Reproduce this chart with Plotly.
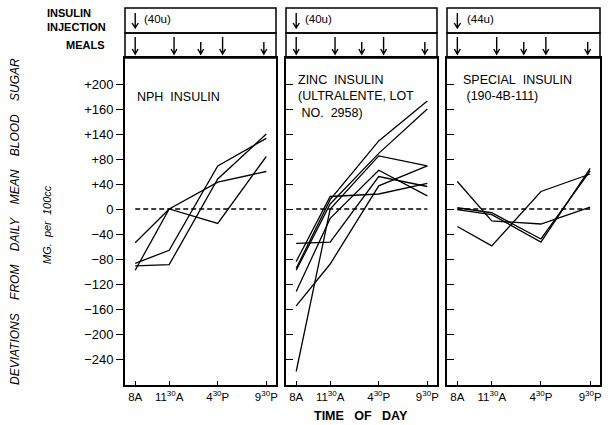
import plotly.graph_objects as go

# ---------------- data ----------------
time_hours = [8, 11.5, 16.5, 21.5]
time_labels = ["8A", "11<sup>30</sup>A", "4<sup>30</sup>P", "9<sup>30</sup>P"]

y_tick_vals = [200, 160, 120, 80, 40, 0, -40, -80, -120, -160, -200, -240]
y_tick_text = ["+200", "+160", "+140", "+80", "+40", "0", "−40", "−80",
               "−120", "−160", "−200", "−240"]

nph_series = [
    [-54, 0, 43, 60],
    [-87, -66, 69, 113],
    [-91, -89, 48, 120],
    [-98, 0, -23, 84],
]
zinc_series = [
    [-55, -53, 52, 36],
    [-84, 20, 24, 41],
    [-95, 15, 109, 173],
    [-98, 8, 89, 160],
    [-132, -15, 62, 21],
    [-155, -88, 37, 69],
    [-260, 0, 85, 69],
]
special_series = [
    [44, -19, -24, 3],
    [-28, -59, 28, 56],
    [2, -6, -48, 61],
    [-1, -9, -53, 65],
]

panel_titles = [
    "NPH\u00a0\u00a0INSULIN",
    "ZINC\u00a0\u00a0INSULIN<br>(ULTRALENTE,\u00a0LOT<br>\u00a0NO.\u00a0\u00a02958)",
    "SPECIAL\u00a0\u00a0INSULIN<br>\u00a0(190-4B-111)",
]
injection_doses = ["(40u)", "(40u)", "(44u)"]
meal_times = [8, 12, 14.75, 17, 21.25]
meal_is_snack = [False, False, True, False, True]

# ---------------- layout geometry (pixels) ----------------
W, H = 608, 425
panel_px = [(125, 276), (286, 437), (447, 600)]
box_top, box_bottom = 58, 385
hdr_top, hdr_mid = 8, 33
x_range = [6.95, 22.5]
y_range = [-281.6, 241.6]

FONT = "Liberation Sans, Arial, sans-serif"

def px(x):
    return x / W

def py(y):
    return 1 - y / H

fig = go.Figure()
all_series = [nph_series, zinc_series, special_series]

for i, series in enumerate(all_series):
    xa = "x" if i == 0 else f"x{i+1}"
    ya = "y" if i == 0 else f"y{i+1}"
    fig.add_trace(go.Scatter(
        x=[time_hours[0], time_hours[-1]], y=[0, 0], mode="lines",
        line=dict(color="black", width=1.3, dash="5px,3px"),
        xaxis=xa, yaxis=ya, showlegend=False, hoverinfo="skip"))
    for s in series:
        fig.add_trace(go.Scatter(
            x=time_hours, y=s, mode="lines",
            line=dict(color="black", width=1.3),
            xaxis=xa, yaxis=ya, showlegend=False))

layout = dict(
    width=W, height=H, margin=dict(l=0, r=0, t=0, b=0),
    paper_bgcolor="white", plot_bgcolor="white",
    template="none", showlegend=False,
    font=dict(family=FONT, color="black", size=11),
)

for i, (x0, x1) in enumerate(panel_px):
    xkey = "xaxis" if i == 0 else f"xaxis{i+1}"
    ykey = "yaxis" if i == 0 else f"yaxis{i+1}"
    xa = "x" if i == 0 else f"x{i+1}"
    layout[xkey] = dict(
        domain=[px(x0), px(x1)], range=x_range, anchor=("y" if i == 0 else f"y{i+1}"),
        showgrid=False, zeroline=False, showline=True, linecolor="black",
        linewidth=1.7, mirror=True, ticks="inside", ticklen=4, tickcolor="black",
        tickvals=time_hours, ticktext=time_labels,
        tickfont=dict(family=FONT, size=11.5, color="black"), automargin=False)
    layout[ykey] = dict(
        domain=[py(box_bottom), py(box_top)], range=y_range, anchor=xa,
        showgrid=False, zeroline=False, showline=True, linecolor="black",
        linewidth=1.7, mirror=True,
        ticks=("outside" if i == 0 else "inside"), ticklen=7, tickcolor="black",
        tickvals=y_tick_vals, ticktext=y_tick_text,
        showticklabels=(i == 0),
        tickfont=dict(family=FONT, size=13, color="black"), automargin=False)

fig.update_layout(**layout)


def arrow_path(xv, top, bot, dx, hh):
    return (f"M {xv},{py(top)} L {xv},{py(bot)} "
            f"M {xv - dx},{py(bot - hh)} L {xv},{py(bot)} L {xv + dx},{py(bot - hh)}")


shapes = []
annotations = []
for i, (x0, x1) in enumerate(panel_px):
    xa = "x" if i == 0 else f"x{i+1}"
    for (ya0, ya1) in [(hdr_top, hdr_mid), (hdr_mid, box_top)]:
        shapes.append(dict(type="rect", xref="paper", yref="paper",
                           x0=px(x0), x1=px(x1), y0=py(ya1), y1=py(ya0),
                           line=dict(color="black", width=1.5)))
    # injection arrow + dose
    shapes.append(dict(type="path", xref=xa, yref="paper",
                       path=arrow_path(time_hours[0], 13, 28, 0.32, 5),
                       line=dict(color="black", width=1.4)))
    annotations.append(dict(x=time_hours[0] + 0.75, xref=xa, y=py(19),
                            yref="paper", text=injection_doses[i], showarrow=False,
                            font=dict(family=FONT, size=11.5, color="black"),
                            xanchor="left", yanchor="middle"))
    # meal arrows
    for mt, snack in zip(meal_times, meal_is_snack):
        top = 42 if snack else 37
        shapes.append(dict(type="path", xref=xa, yref="paper",
                           path=arrow_path(mt, top, 54, 0.3, 5),
                           line=dict(color="black", width=1.4)))

# panel titles
title_pos = [(135, 88), (296, 71), (461, 71)]
for (tx, ty), t in zip(title_pos, panel_titles):
    annotations.append(dict(x=px(tx), y=py(ty), xref="paper", yref="paper",
                            text=t, showarrow=False, align="left",
                            xanchor="left", yanchor="top",
                            font=dict(family=FONT, size=12.5, color="black")))

# header row labels and axis titles
annotations += [
    dict(x=px(45), y=py(13), xref="paper", yref="paper", text="<b>INSULIN</b>",
         showarrow=False, xanchor="left", yanchor="middle",
         font=dict(family=FONT, size=11, color="black")),
    dict(x=px(45), y=py(27), xref="paper", yref="paper", text="<b>INJECTION</b>",
         showarrow=False, xanchor="left", yanchor="middle",
         font=dict(family=FONT, size=11, color="black")),
    dict(x=px(107), y=py(45), xref="paper", yref="paper", text="<b>MEALS</b>",
         showarrow=False, xanchor="right", yanchor="middle",
         font=dict(family=FONT, size=11, color="black")),
    dict(x=px(15), y=py(222), xref="paper", yref="paper",
         text="<i>DEVIATIONS\u00a0\u00a0\u00a0 FROM\u00a0\u00a0\u00a0 DAILY\u00a0\u00a0\u00a0 MEAN\u00a0\u00a0\u00a0 BLOOD\u00a0\u00a0\u00a0 SUGAR</i>",
         showarrow=False, textangle=-90, xanchor="center", yanchor="middle",
         font=dict(family=FONT, size=12, color="black")),
    dict(x=px(47), y=py(225), xref="paper", yref="paper",
         text="<i>MG.\u00a0 per\u00a0 100cc</i>",
         showarrow=False, textangle=-90, xanchor="center", yanchor="middle",
         font=dict(family=FONT, size=11, color="black")),
    dict(x=px(361), y=py(416), xref="paper", yref="paper",
         text="<b>TIME\u00a0\u00a0 OF\u00a0\u00a0 DAY</b>",
         showarrow=False, xanchor="center", yanchor="middle",
         font=dict(family=FONT, size=12.5, color="black")),
]

fig.update_layout(shapes=shapes, annotations=annotations)
fig.write_html("out.html", config={"displayModeBar": False},
               post_script="document.body.style.margin='0';document.body.style.overflow='hidden';")
